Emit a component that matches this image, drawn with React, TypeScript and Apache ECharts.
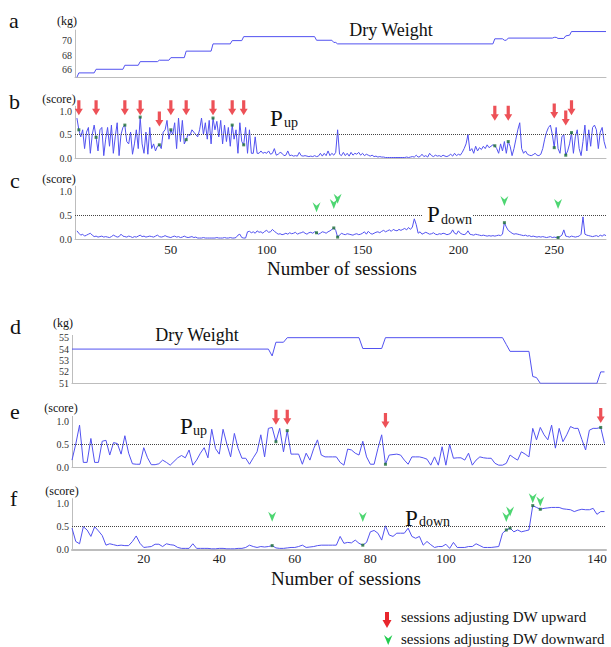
import React, { useEffect, useRef } from "react";
import * as echarts from "echarts";

// ---------------- data ----------------
const topSessionTicks = [50, 100, 150, 200, 250];
const bottomSessionTicks = [20, 40, 60, 80, 100, 120, 140];
const scoreTicks = [0, 0.5, 1.0];
const topKgTicks = [66, 68, 70];
const bottomKgTicks = [51, 52, 53, 54, 55];

// sessions where dry weight was adjusted
const topUpSessions = [2, 11, 26, 34, 44, 50, 58, 72, 82, 88, 219, 226, 250, 256, 259];
const topDownSessions = [126, 135, 137, 224, 252];
const bottomUpSessions = [55, 58, 84, 141];
const bottomDownSessions = [54, 78, 116, 117, 123, 125];

// dry weight (kg) breakpoints [session, kg]
const topDryWeight: [number, number][] = [
  [1, 65.0], [2, 65.6], [10, 65.6], [11, 66.1], [25, 66.1], [26, 66.65], [33, 66.65],
  [34, 67.15], [43, 67.15], [44, 67.35], [49, 67.35], [50, 67.7], [57, 67.7], [58, 68.6],
  [71, 68.6], [72, 69.6], [81, 69.6], [82, 70.05], [87, 70.05], [88, 70.6], [125, 70.6],
  [126, 70.1], [134, 70.1], [135, 69.8], [136, 69.8], [137, 69.6], [218, 69.6], [219, 70.3],
  [223, 70.3], [224, 70.1], [225, 70.1], [226, 70.4], [249, 70.4], [250, 70.5], [251, 70.5],
  [252, 70.35], [255, 70.35], [256, 70.7], [258, 70.8], [259, 71.3], [277, 71.3],
];
const bottomDryWeight: [number, number][] = [
  [1, 54], [53, 54], [54, 53.4], [55, 54.6], [57, 54.6], [58, 55], [77, 55], [78, 54.05],
  [83, 54.05], [84, 55], [115, 55], [116, 54.4], [117, 53.8], [122, 53.8], [123, 51.6],
  [124, 51.5], [125, 51.0], [140, 51.0], [141, 52], [142, 52],
];

// P_up score, patient 1 (session 1..277)
const topPup = [
  0.85, 0.6, 0.45, 0.6, 0.2, 0.55, 0.65, 0.1, 0.5, 0.7,
  0.44, 0.15, 0.6, 0.65, 0.05, 0.4, 0.65, 0.25, 0.7, 0.1,
  0.45, 0.75, 0.05, 0.5, 0.65, 0.7, 0.35, 0.3, 0.55, 0.08,
  0.3, 0.6, 0.2, 0.87, 0.3, 0.1, 0.55, 0.08, 0.65, 0.2,
  0.3, 0.15, 0.25, 0.28, 0.2, 0.55, 0.6, 0.8, 0.4, 0.6,
  0.5, 0.75, 0.2, 0.85, 0.35, 0.8, 0.3, 0.39, 0.5, 0.48,
  0.6, 0.55, 0.5, 0.45, 0.6, 0.85, 0.5, 0.75, 0.4, 0.8,
  0.3, 0.85, 0.6, 0.78, 0.45, 0.8, 0.3, 0.7, 0.35, 0.65,
  0.25, 0.7, 0.4, 0.6, 0.1, 0.75, 0.35, 0.28, 0.65, 0.1,
  0.6, 0.1, 0.1, 0.45, 0.1, 0.1, 0.15, 0.1, 0.12, 0.1,
  0.15, 0.08, 0.1, 0.2, 0.06, 0.08, 0.12, 0.1, 0.05, 0.06,
  0.15, 0.05, 0.06, 0.04, 0.05, 0.04, 0.12, 0.05, 0.04, 0.05,
  0.04, 0.03, 0.04, 0.03, 0.05, 0.03, 0.04, 0.1, 0.04, 0.1,
  0.05, 0.15, 0.05, 0.1, 0.06, 0.12, 0.6, 0.08, 0.05, 0.12,
  0.05, 0.1, 0.04, 0.12, 0.06, 0.1, 0.08, 0.12, 0.06, 0.1,
  0.05, 0.08, 0.06, 0.04, 0.06, 0.03, 0.04, 0.02, 0.03, 0.02,
  0.02, 0.01, 0.01, 0.01, 0.01, 0.01, 0.01, 0.01, 0.01, 0.01,
  0.01, 0.01, 0.02, 0.01, 0.02, 0.03, 0.02, 0.06, 0.02, 0.03,
  0.08, 0.03, 0.05, 0.02, 0.1, 0.05, 0.03, 0.06, 0.04, 0.05,
  0.03, 0.06, 0.04, 0.03, 0.05, 0.08, 0.04, 0.1, 0.05, 0.08,
  0.06, 0.12, 0.2, 0.3, 0.5, 0.15, 0.2, 0.1, 0.25, 0.15,
  0.22, 0.18, 0.25, 0.2, 0.28, 0.22, 0.25, 0.28, 0.26, 0.2,
  0.1, 0.3, 0.15, 0.35, 0.1, 0.35, 0.25, 0.05, 0.2, 0.4,
  0.6, 0.75, 0.2, 0.1, 0.15, 0.08, 0.06, 0.05, 0.07, 0.1,
  0.06, 0.05, 0.08, 0.2, 0.4, 0.55, 0.65, 0.7, 0.5, 0.22,
  0.65, 0.2, 0.1, 0.45, 0.5, 0.06, 0.15, 0.3, 0.54, 0.1,
  0.45, 0.6, 0.2, 0.05, 0.35, 0.7, 0.15, 0.6, 0.25, 0.65,
  0.7, 0.6, 0.2, 0.55, 0.65, 0.35, 0.2,
];

// P_down score, patient 1 (session 1..277)
const topPdown = [
  0.17, 0.12, 0.08, 0.1, 0.06, 0.08, 0.1, 0.12, 0.08, 0.05,
  0.06, 0.04, 0.05, 0.06, 0.04, 0.05, 0.04, 0.03, 0.05, 0.08,
  0.06, 0.04, 0.05, 0.1, 0.06, 0.05, 0.04, 0.06, 0.05, 0.03,
  0.05, 0.04, 0.06, 0.08, 0.05, 0.06, 0.04, 0.05, 0.06, 0.05,
  0.04, 0.06, 0.08, 0.05, 0.04, 0.05, 0.07, 0.05, 0.04, 0.03,
  0.05, 0.06, 0.04, 0.05, 0.03, 0.04, 0.06, 0.04, 0.03, 0.04,
  0.05, 0.03, 0.04, 0.02, 0.02, 0.02, 0.03, 0.02, 0.02, 0.02,
  0.02, 0.02, 0.02, 0.03, 0.02, 0.02, 0.02, 0.03, 0.02, 0.02,
  0.03, 0.02, 0.02, 0.03, 0.08, 0.1, 0.03, 0.02, 0.02, 0.15,
  0.16, 0.13, 0.15, 0.12, 0.17, 0.14, 0.15, 0.12, 0.16, 0.18,
  0.14, 0.15, 0.2, 0.16, 0.13, 0.1, 0.11, 0.09, 0.1, 0.12,
  0.1, 0.13, 0.11, 0.12, 0.14, 0.1, 0.12, 0.13, 0.15, 0.12,
  0.1, 0.13, 0.14, 0.12, 0.15, 0.13, 0.1, 0.12, 0.15, 0.14,
  0.12, 0.15, 0.17, 0.2, 0.23, 0.18, 0.04, 0.08, 0.12, 0.1,
  0.09, 0.11, 0.1, 0.09, 0.08, 0.1, 0.11, 0.09, 0.1, 0.12,
  0.15, 0.1, 0.16, 0.12, 0.1, 0.12, 0.14, 0.15, 0.13, 0.16,
  0.18, 0.15, 0.17, 0.19, 0.16, 0.2, 0.18, 0.17, 0.2, 0.18,
  0.2, 0.22, 0.19, 0.24, 0.2, 0.25, 0.42, 0.3, 0.12, 0.15,
  0.1, 0.12, 0.14, 0.12, 0.1, 0.11, 0.13, 0.1, 0.09, 0.11,
  0.1, 0.12, 0.11, 0.09, 0.1, 0.12, 0.19, 0.12, 0.1, 0.17,
  0.12, 0.1, 0.09, 0.11, 0.17, 0.1, 0.09, 0.08, 0.1, 0.09,
  0.08, 0.07, 0.08, 0.07, 0.06, 0.07, 0.06, 0.07, 0.06, 0.07,
  0.08, 0.07, 0.1, 0.34, 0.25, 0.18, 0.15, 0.12, 0.1, 0.11,
  0.1, 0.09, 0.08, 0.07, 0.08, 0.06, 0.07, 0.05, 0.06, 0.05,
  0.04, 0.05, 0.04, 0.05, 0.04, 0.03, 0.04, 0.05, 0.03, 0.04,
  0.03, 0.03, 0.05, 0.08, 0.19, 0.06, 0.05, 0.04, 0.06, 0.05,
  0.04, 0.05, 0.06, 0.1, 0.46, 0.1, 0.08, 0.07, 0.06, 0.05,
  0.06, 0.07, 0.05, 0.08, 0.06, 0.09, 0.07,
];

// P_up score, patient 2 (session 1..142)
const bottomPup = [
  0.15, 0.5, 0.91, 0.1, 0.1, 0.62, 0.1, 0.1, 0.56, 0.58,
  0.26, 0.53, 0.51, 0.28, 0.68, 0.3, 0.07, 0.06, 0.06, 0.42,
  0.2, 0.05, 0.05, 0.07, 0.15, 0.1, 0.04, 0.12, 0.2, 0.25,
  0.2, 0.37, 0.04, 0.15, 0.3, 0.42, 0.2, 0.82, 0.4, 0.28,
  0.82, 0.5, 0.22, 0.73, 0.4, 0.19, 0.19, 0.06, 0.2, 0.33,
  0.7, 0.22, 0.84, 0.86, 0.55, 0.84, 0.33, 0.79, 0.28, 0.28,
  0.28, 0.06, 0.3, 0.15, 0.4, 0.59, 0.26, 0.22, 0.22, 0.22,
  0.22, 0.1, 0.04, 0.39, 0.37, 0.3, 0.26, 0.56, 0.22, 0.06,
  0.06, 0.4, 0.7, 0.06, 0.26, 0.27, 0.28, 0.26, 0.15, 0.06,
  0.22, 0.22, 0.22, 0.2, 0.17, 0.04, 0.22, 0.04, 0.44, 0.04,
  0.49, 0.19, 0.2, 0.2, 0.15, 0.3, 0.04, 0.15, 0.22, 0.2,
  0.19, 0.19, 0.08, 0.04, 0.04, 0.08, 0.26, 0.2, 0.15, 0.33,
  0.28, 0.22, 0.84, 0.59, 0.86, 0.7, 0.59, 0.91, 0.41, 0.84,
  0.55, 0.7, 0.88, 0.84, 0.84, 0.6, 0.37, 0.8, 0.84, 0.84,
  0.86, 0.51,
];

// P_down score, patient 2 (session 1..142)
const bottomPdown = [
  0.46, 0.17, 0.12, 0.49, 0.42, 0.28, 0.49, 0.4, 0.3, 0.09,
  0.12, 0.1, 0.08, 0.09, 0.08, 0.08, 0.17, 0.29, 0.13, 0.04,
  0.05, 0.06, 0.11, 0.11, 0.06, 0.12, 0.1, 0.09, 0.04, 0.02,
  0.02, 0.02, 0.12, 0.02, 0.02, 0.02, 0.02, 0.01, 0.01, 0.02,
  0.02, 0.01, 0.01, 0.01, 0.02, 0.02, 0.04, 0.09, 0.06, 0.04,
  0.06, 0.05, 0.06, 0.08, 0.03, 0.02, 0.02, 0.03, 0.04, 0.04,
  0.06, 0.09, 0.04, 0.05, 0.06, 0.08, 0.09, 0.09, 0.09, 0.09,
  0.09, 0.28, 0.13, 0.15, 0.14, 0.2, 0.13, 0.09, 0.15, 0.38,
  0.41, 0.35, 0.2, 0.51, 0.31, 0.28, 0.35, 0.35, 0.35, 0.46,
  0.28, 0.24, 0.28, 0.09, 0.17, 0.1, 0.04, 0.06, 0.06, 0.11,
  0.02, 0.15, 0.04, 0.04, 0.04, 0.06, 0.06, 0.12, 0.08, 0.04,
  0.04, 0.04, 0.05, 0.06, 0.35, 0.42, 0.46, 0.38, 0.42, 0.38,
  0.4, 0.42, 0.95, 0.91, 0.87, 0.89, 0.9, 0.91, 0.91, 0.91,
  0.88, 0.87, 0.86, 0.82, 0.85, 0.87, 0.86, 0.86, 0.89, 0.76,
  0.82, 0.82,
];

// ---------------- layout / style ----------------
const FONT = "'Liberation Serif', 'Times New Roman', serif";
const LINE = "#5252f0";
const RED = "#e8262d";
const GREEN = "#22cc4f";
const DOT = "#1b6e35";
const AXIS = "#bdbdbd";
const RED_ARROW = "path://M3,0 L7,0 L7,9 L10,9 L5,16 L0,9 L3,9 Z";
const GREEN_HEAD = "path://M0,0 L5,4 L10,0 L5,12 Z";

// vertical level (axis units) of each event marker
const topUpLevel: Record<number, number> = { 44: 0.83, 256: 0.85, 219: 0.95, 226: 0.95, 250: 1.0 };
const topDownLevel: Record<number, number> = { 126: 0.66, 135: 0.73, 137: 0.84, 224: 0.79, 252: 0.73 };
const bottomUpLevel: Record<number, number> = { 55: 1.08, 58: 1.08, 84: 1.01, 141: 1.12 };
const bottomDownLevel: Record<number, number> = { 54: 0.71, 78: 0.7, 116: 0.7, 117: 0.82, 123: 1.11, 125: 1.04 };

const series1 = (vals: number[]) => vals.map((v, i) => [i + 1, v]);
const eventDots = (sessions: number[], vals: number[]) => sessions.map((s) => [s, vals[s - 1]]);
const markers = (sessions: number[], level: Record<number, number>, def: number) =>
  sessions.map((s) => [s, level[s] ?? def]);

function buildOption(): echarts.EChartsCoreOption {
  const grids = [
    { left: 75, width: 531, top: 30.1, height: 47.15 },
    { left: 75, width: 531, top: 106.3, height: 51.7 },
    { left: 75, width: 531, top: 186.2, height: 52.8 },
    { left: 72, width: 534, top: 335.4, height: 47.9 },
    { left: 72, width: 534, top: 416.4, height: 50.6 },
    { left: 72, width: 534, top: 498.7, height: 50.6 },
  ].map((g) => ({ ...g, containLabel: false, outerBoundsMode: "none" }));

  const axisLine = (w: number) => ({ show: true, onZero: false, lineStyle: { color: AXIS, width: w } });
  const xAxis: any[] = [];
  for (let i = 0; i < 3; i++) {
    xAxis.push({
      type: "value", gridIndex: i, min: 0, max: 277, interval: 50,
      axisLine: axisLine(1), axisTick: { show: false }, splitLine: { show: false },
      axisLabel: {
        show: i === 2, margin: 4, fontSize: 13, fontFamily: FONT, color: "#222",
        formatter: (v: number) => (topSessionTicks.includes(v) ? String(v) : ""),
      },
    });
  }
  for (let i = 3; i < 6; i++) {
    xAxis.push({
      type: "value", gridIndex: i, min: 1, max: 142.4, interval: 1,
      axisLine: axisLine(i === 5 ? 2 : 1.2), axisTick: { show: false }, splitLine: { show: false },
      axisLabel: {
        show: i === 5, margin: 3, fontSize: 13, fontFamily: FONT, color: "#222",
        formatter: (v: number) => (bottomSessionTicks.includes(v) ? String(v) : ""),
      },
    });
  }
  const yLabel = (fmt: (v: number) => string) => ({
    margin: 3, fontSize: 10, fontFamily: FONT, color: "#333", formatter: fmt,
  });
  const scoreFmt = (v: number) => {
    const hit = scoreTicks.find((t) => Math.abs(t - v) < 1e-6);
    return hit === undefined ? "" : hit.toFixed(1);
  };
  const yBase = { type: "value", axisLine: axisLine(1), axisTick: { show: false }, splitLine: { show: false } };
  const yAxis: any[] = [
    { ...yBase, gridIndex: 0, min: 65, max: 71.5, interval: 1,
      axisLabel: yLabel((v) => (topKgTicks.includes(v) ? String(v) : "")) },
    { ...yBase, gridIndex: 1, min: 0, max: 1.1, interval: 0.5, axisLabel: yLabel(scoreFmt) },
    { ...yBase, gridIndex: 2, min: 0, max: 1.1, interval: 0.5, axisLabel: yLabel(scoreFmt) },
    { ...yBase, gridIndex: 3, min: 51, max: 55.2, interval: 1,
      axisLabel: yLabel((v) => (bottomKgTicks.includes(v) ? String(v) : "")) },
    { ...yBase, gridIndex: 4, min: 0, max: 1.1, interval: 0.5, axisLabel: yLabel(scoreFmt) },
    { ...yBase, gridIndex: 5, min: 0, max: 1.1, interval: 0.5, axisLabel: yLabel(scoreFmt) },
  ];

  const halfLine = {
    silent: true, symbol: "none", label: { show: false },
    lineStyle: { type: "dotted", color: "#444", width: 1 },
    data: [{ yAxis: 0.5 }],
  };
  const line = (idx: number, data: number[][], withHalf: boolean) => ({
    type: "line", xAxisIndex: idx, yAxisIndex: idx, data, showSymbol: false, smooth: false,
    lineStyle: { color: LINE, width: 1 }, z: 2,
    markLine: withHalf ? halfLine : undefined,
  });
  const dots = (idx: number, data: number[][]) => ({
    type: "scatter", xAxisIndex: idx, yAxisIndex: idx, data, symbol: "rect", symbolSize: 3,
    itemStyle: { color: DOT }, z: 3,
  });
  const arrows = (idx: number, data: number[][], up: boolean) => ({
    type: "scatter", xAxisIndex: idx, yAxisIndex: idx, data, clip: false,
    symbol: up ? RED_ARROW : GREEN_HEAD, symbolSize: up ? [8, 15] : [8, 10],
    itemStyle: { color: up ? RED : GREEN }, z: 5,
  });

  const series = [
    line(0, topDryWeight, false),
    line(1, series1(topPup), true),
    dots(1, eventDots(topUpSessions, topPup)),
    arrows(1, markers(topUpSessions, topUpLevel, 1.07), true),
    line(2, series1(topPdown), true),
    dots(2, eventDots(topDownSessions, topPdown)),
    arrows(2, markers(topDownSessions, topDownLevel, 0.73), false),
    line(3, bottomDryWeight, false),
    line(4, series1(bottomPup), true),
    dots(4, eventDots(bottomUpSessions, bottomPup)),
    arrows(4, markers(bottomUpSessions, bottomUpLevel, 1.08), true),
    line(5, series1(bottomPdown), true),
    dots(5, eventDots(bottomDownSessions, bottomPdown)),
    arrows(5, markers(bottomDownSessions, bottomDownLevel, 0.7), false),
  ];

  const txt = (text: string, x: number, y: number, size: number, align = "left") => ({
    type: "text", x, y, silent: true, z: 100,
    style: {
      text, fill: "#111", fontSize: size, fontFamily: FONT,
      textAlign: align, align, textVerticalAlign: "middle", verticalAlign: "middle",
    },
  });

  const graphic: any[] = [
    txt("a", 9, 20, 22), txt("b", 9, 101, 22), txt("c", 10, 180, 22),
    txt("d", 10, 326, 22), txt("e", 10, 411, 22), txt("f", 10, 498, 22),
    txt("(kg)", 67, 21, 12, "center"), txt("(kg)", 63, 323, 12, "center"),
    txt("(score)", 59, 99, 12, "center"), txt("(score)", 59, 179, 12, "center"),
    txt("(score)", 61, 408, 12, "center"), txt("(score)", 62, 491, 12, "center"),
    txt("Dry Weight", 391, 30, 18, "center"), txt("Dry Weight", 197, 335, 18, "center"),
    txt("P", 270, 118, 23), txt("up", 284, 122, 14),
    { type: "rect", z: 90, silent: true, shape: { x: 423, y: 206, width: 49, height: 17 }, style: { fill: "#fff" } },
    txt("P", 427, 214, 23), txt("down", 441, 219, 14),
    txt("P", 180, 426, 23), txt("up", 193, 430, 14),
    txt("P", 405, 518, 23), txt("down", 419, 521, 14),
    txt("Number of sessions", 342, 268, 19, "center"),
    txt("Number of sessions", 346, 578, 19, "center"),
    {
      type: "polygon", z: 100, silent: true,
      shape: { points: [[385, 612], [389, 612], [389, 620], [391.5, 620], [387, 628], [382.5, 620], [385, 620]] },
      style: { fill: RED },
    },
    {
      type: "polygon", z: 100, silent: true,
      shape: { points: [[384, 635], [388.2, 638.5], [392.4, 635], [388.2, 645]] },
      style: { fill: GREEN },
    },
    txt("sessions adjusting DW upward", 401, 617, 15),
    txt("sessions adjusting DW downward", 401, 639, 15),
  ];

  return { animation: false, backgroundColor: "#fff", grid: grids, xAxis, yAxis, series, graphic };
}

export default function App() {
  const ref = useRef<HTMLDivElement>(null);
  useEffect(() => {
    if (!ref.current) return;
    const chart = echarts.init(ref.current, undefined, { renderer: "svg" });
    chart.setOption(buildOption());
    return () => chart.dispose();
  }, []);
  return (
    <div
      ref={ref}
      style={{ position: "absolute", left: 0, top: 0, width: 611, height: 647, background: "#fff" }}
    />
  );
}
